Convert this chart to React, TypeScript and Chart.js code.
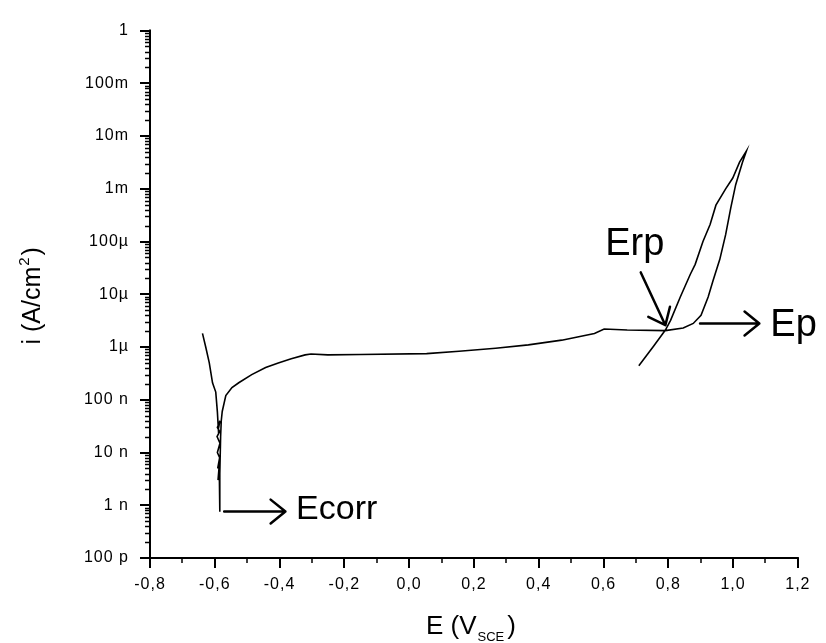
import React, { useEffect, useRef } from "react";
import { Chart, registerables } from "chart.js";

Chart.register(...registerables);

// Potential (V vs SCE) of the polarization sweep, in drawing order
const E_V = [
  -0.638, -0.628, -0.617, -0.607, -0.597, -0.592, -0.589,
  -0.584, -0.592, -0.585, -0.593, -0.584, -0.592, -0.585, -0.591, -0.586, -0.590, -0.586, -0.585,
  -0.584, -0.582, -0.580, -0.577, -0.566, -0.547, -0.526, -0.486,
  -0.443, -0.404, -0.364, -0.321, -0.303, -0.251, -0.150, 0.054,
  0.154, 0.267, 0.368, 0.471, 0.572, 0.602, 0.673, 0.791, 0.846,
  0.877, 0.901, 0.923, 0.938, 0.959, 0.977, 0.993, 1.008, 1.029, 1.041,
  1.020, 0.999, 0.977, 0.947, 0.929, 0.907, 0.883, 0.868, 0.837,
  0.807, 0.791, 0.755, 0.709,
];

// Current density (A/cm²) for each potential above
const I_A = [
  1.82e-6, 1.0e-6, 5.0e-7, 2.1e-7, 1.4e-7, 5.9e-8, 2.8e-8,
  4.0e-8, 3.0e-8, 2.5e-8, 2.0e-8, 1.5e-8, 1.0e-8, 8e-9, 5e-9, 6e-9, 3e-9, 4e-9, 7.5e-10,
  4e-9, 2e-8, 4e-8, 6e-8, 1.2e-7, 1.7e-7, 2.1e-7, 3.0e-7,
  4.1e-7, 5.0e-7, 6.0e-7, 7.1e-7, 7.4e-7, 7.1e-7, 7.2e-7, 7.5e-7,
  8.3e-7, 9.5e-7, 1.1e-6, 1.35e-6, 1.8e-6, 2.2e-6, 2.1e-6, 2.05e-6, 2.3e-6,
  2.8e-6, 4.0e-6, 8.9e-6, 1.8e-5, 4.6e-5, 1.35e-4, 4.4e-4, 1.2e-3, 3.2e-3, 5.2e-3,
  3.2e-3, 1.6e-3, 1.0e-3, 4.9e-4, 2.1e-4, 1.0e-4, 3.7e-5, 2.4e-5, 8.9e-6,
  3.2e-6, 2.1e-6, 1.05e-6, 4.4e-7,
];

const X_TICKS = [-0.8, -0.6, -0.4, -0.2, 0.0, 0.2, 0.4, 0.6, 0.8, 1.0, 1.2];
const X_TICK_LABELS = ["-0,8", "-0,6", "-0,4", "-0,2", "0,0", "0,2", "0,4", "0,6", "0,8", "1,0", "1,2"];

const Y_TICKS = [1e-10, 1e-9, 1e-8, 1e-7, 1e-6, 1e-5, 1e-4, 1e-3, 1e-2, 1e-1, 1];
const Y_TICK_LABELS = ["100 p", "1 n", "10 n", "100 n", "1µ", "10µ", "100µ", "1m", "10m", "100m", "1"];

// Annotation labels with arrows, anchored in data units (E, i)
const ANNOT_LABELS = ["Ecorr", "Erp", "Ep"];
const ANNOT_ARROW_FROM = [[-0.571, 7.6e-10], [0.715, 2.6e-5], [0.898, 2.8e-6]];
const ANNOT_ARROW_TO = [[-0.382, 7.6e-10], [0.791, 2.6e-6], [1.081, 2.8e-6]];
const ANNOT_TEXT_AT = [[-0.349, 5.4e-10], [0.605, 5.5e-5], [1.115, 1.6e-6]];

const FONT = "'Liberation Sans', Arial, sans-serif";
const ANNOT_FONT_PX = [34, 38, 38];

const decorPlugin = {
  id: "decor",
  beforeDraw(chart: any) {
    try {
      chart.ctx.letterSpacing = "1px";
    } catch (e) {}
  },
  afterDraw(chart: any) {
    const { ctx, chartArea: a, scales } = chart;
    const xs = scales.x;
    const ys = scales.y;
    ctx.save();
    try {
      ctx.letterSpacing = "0px";
    } catch (e) {}
    ctx.strokeStyle = "#000";
    ctx.fillStyle = "#000";

    // axes lines
    ctx.lineWidth = 2;
    ctx.beginPath();
    ctx.moveTo(a.left, a.top - 1);
    ctx.lineTo(a.left, a.bottom);
    ctx.lineTo(a.right + 1, a.bottom);
    ctx.stroke();

    // y ticks (major + log minor)
    for (let k = 0; k < Y_TICKS.length; k++) {
      const v = Y_TICKS[k];
      const py = Math.round(ys.getPixelForValue(v));
      ctx.lineWidth = 2;
      ctx.beginPath();
      ctx.moveTo(a.left - 10, py);
      ctx.lineTo(a.left, py);
      ctx.stroke();
      if (k < Y_TICKS.length - 1) {
        ctx.lineWidth = 1.5;
        for (let m = 2; m <= 9; m++) {
          const pm = Math.round(ys.getPixelForValue(v * m)) + 0.5;
          ctx.beginPath();
          ctx.moveTo(a.left - 5, pm);
          ctx.lineTo(a.left, pm);
          ctx.stroke();
        }
      }
    }

    // x ticks (major + minor midpoints)
    for (let k = 0; k < X_TICKS.length; k++) {
      const px = Math.round(xs.getPixelForValue(X_TICKS[k]));
      ctx.lineWidth = 2;
      ctx.beginPath();
      ctx.moveTo(px, a.bottom);
      ctx.lineTo(px, a.bottom + 10);
      ctx.stroke();
      if (k < X_TICKS.length - 1) {
        const pm = Math.round(xs.getPixelForValue((X_TICKS[k] + X_TICKS[k + 1]) / 2));
        ctx.lineWidth = 1.5;
        ctx.beginPath();
        ctx.moveTo(pm, a.bottom);
        ctx.lineTo(pm, a.bottom + 5);
        ctx.stroke();
      }
    }

    // y title: i (A/cm²)
    ctx.save();
    const cy = (a.top + a.bottom) / 2 + 2;
    ctx.translate(40, cy);
    ctx.rotate(-Math.PI / 2);
    ctx.textBaseline = "alphabetic";
    ctx.textAlign = "left";
    const big = `25px ${FONT}`;
    const small = `15px ${FONT}`;
    ctx.font = big;
    const t1 = "i (A/cm";
    const w1 = ctx.measureText(t1).width;
    ctx.font = small;
    const w2 = ctx.measureText("2").width + 2;
    ctx.font = big;
    const w3 = ctx.measureText(")").width;
    let sx = -(w1 + w2 + w3) / 2;
    ctx.fillText(t1, sx, 0);
    sx += w1 + 1;
    ctx.font = small;
    ctx.fillText("2", sx, -11);
    sx += w2;
    ctx.font = big;
    ctx.fillText(")", sx, 0);
    ctx.restore();

    // x title: E (V_SCE)
    {
      const big2 = `26px ${FONT}`;
      const sub = `13px ${FONT}`;
      const cx = (a.left + a.right) / 2 - 3;
      const base = 634;
      ctx.textAlign = "left";
      ctx.textBaseline = "alphabetic";
      ctx.font = big2;
      const s1 = "E (V";
      const ww1 = ctx.measureText(s1).width;
      ctx.font = sub;
      const ww2 = ctx.measureText("SCE").width + 3;
      ctx.font = big2;
      const ww3 = ctx.measureText(")").width;
      let x0 = cx - (ww1 + ww2 + ww3 + 1) / 2;
      ctx.fillText(s1, x0, base);
      x0 += ww1 + 1;
      ctx.font = sub;
      ctx.fillText("SCE", x0, base + 7);
      x0 += ww2;
      ctx.font = big2;
      ctx.fillText(")", x0, base);
    }

    // annotations
    ctx.lineWidth = 2.5;
    ctx.lineCap = "round";
    ctx.lineJoin = "round";
    for (let i = 0; i < ANNOT_LABELS.length; i++) {
      const fx = xs.getPixelForValue(ANNOT_ARROW_FROM[i][0]);
      const fy = ys.getPixelForValue(ANNOT_ARROW_FROM[i][1]);
      const tx = xs.getPixelForValue(ANNOT_ARROW_TO[i][0]);
      const ty = ys.getPixelForValue(ANNOT_ARROW_TO[i][1]);
      const ang = Math.atan2(ty - fy, tx - fx);
      const hl = 19;
      const hw = 0.68;
      ctx.beginPath();
      ctx.moveTo(fx, fy);
      ctx.lineTo(tx, ty);
      ctx.moveTo(tx - hl * Math.cos(ang - hw), ty - hl * Math.sin(ang - hw));
      ctx.lineTo(tx, ty);
      ctx.lineTo(tx - hl * Math.cos(ang + hw), ty - hl * Math.sin(ang + hw));
      ctx.stroke();
      ctx.font = `${ANNOT_FONT_PX[i]}px ${FONT}`;
      ctx.textAlign = "left";
      ctx.textBaseline = "alphabetic";
      ctx.fillText(
        ANNOT_LABELS[i],
        xs.getPixelForValue(ANNOT_TEXT_AT[i][0]),
        ys.getPixelForValue(ANNOT_TEXT_AT[i][1])
      );
    }
    ctx.restore();
  },
};

export default function App() {
  const ref = useRef<HTMLCanvasElement | null>(null);

  useEffect(() => {
    if (!ref.current) return;
    const points = E_V.map((e, i) => ({ x: e, y: I_A[i] }));
    const chart = new Chart(ref.current, {
      type: "scatter",
      data: {
        datasets: [
          {
            data: points,
            showLine: true,
            borderColor: "#000",
            borderWidth: 1.6,
            pointRadius: 0,
            tension: 0,
          },
        ],
      },
      options: {
        animation: false,
        responsive: false,
        devicePixelRatio: 1,
        layout: { padding: { top: 23, right: 20, left: 0, bottom: 0 } },
        plugins: { legend: { display: false }, tooltip: { enabled: false } },
        scales: {
          x: {
            type: "linear",
            min: -0.8,
            max: 1.2,
            grid: { display: false, drawTicks: false },
            border: { display: false },
            afterBuildTicks: (s: any) => {
              s.ticks = X_TICKS.map((v) => ({ value: v }));
            },
            afterFit: (s: any) => {
              s.height = 85;
            },
            ticks: {
              autoSkip: false,
              maxRotation: 0,
              padding: 17,
              color: "#000",
              font: { family: FONT, size: 16 },
              callback: (_v: any, i: number) => X_TICK_LABELS[i],
            },
          },
          y: {
            type: "logarithmic",
            min: 1e-10,
            max: 1,
            grid: { display: false, drawTicks: false },
            border: { display: false },
            afterBuildTicks: (s: any) => {
              s.ticks = Y_TICKS.map((v) => ({ value: v }));
            },
            afterFit: (s: any) => {
              s.width = 150;
            },
            ticks: {
              autoSkip: false,
              padding: 21,
              color: "#000",
              font: { family: FONT, size: 16 },
              callback: (_v: any, i: number) => Y_TICK_LABELS[i],
            },
          },
        },
      },
      plugins: [decorPlugin],
    });
    return () => chart.destroy();
  }, []);

  return (
    <div style={{ position: "absolute", left: 0, top: 0, width: 826, height: 643, background: "#fff" }}>
      <canvas ref={ref} width={826} height={643} style={{ display: "block" }} />
    </div>
  );
}
